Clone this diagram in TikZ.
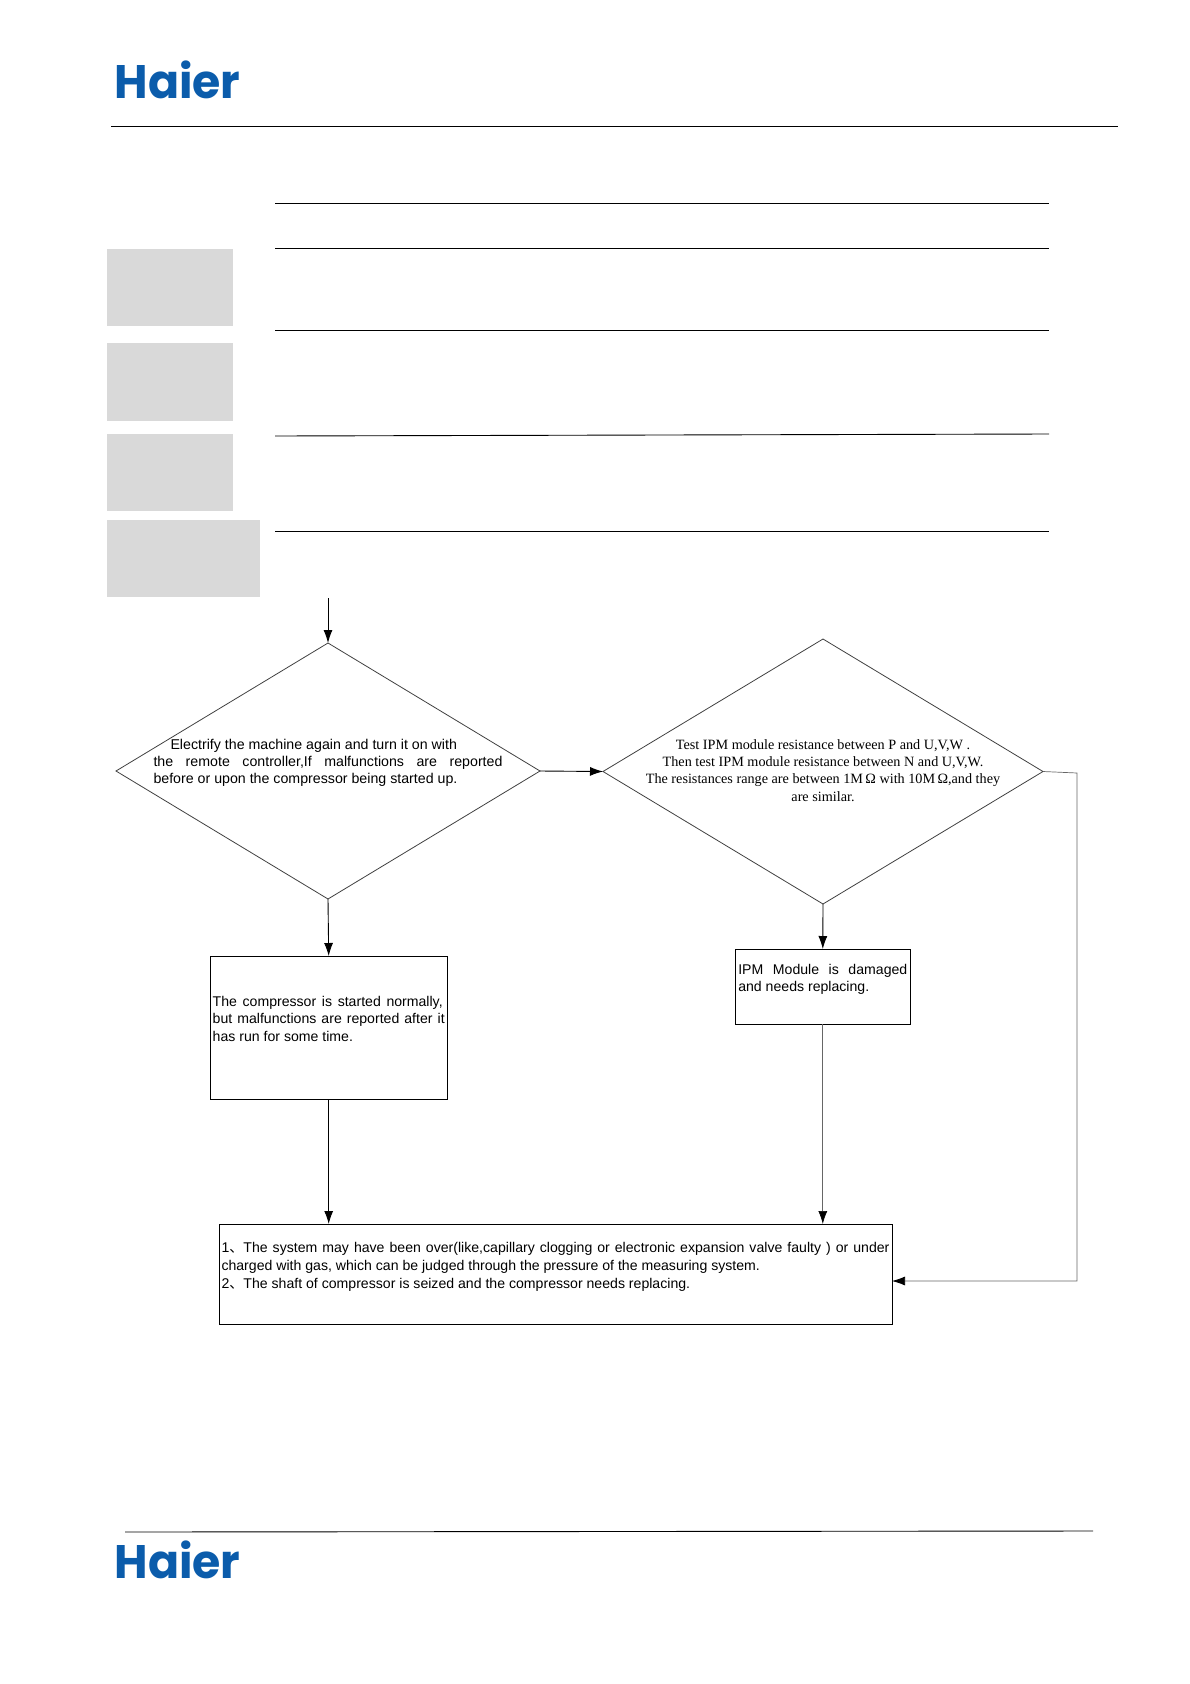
\documentclass[tikz,border=0pt]{standalone}
\usepackage{fontspec}
\setmainfont{Liberation Sans}
\newfontfamily\serifin{Liberation Serif}
\newfontfamily\cjk{Noto Sans CJK SC}
\newfontfamily\logofont{Poppins}[BoldFont=* Bold]
\usetikzlibrary{shapes.geometric,arrows.meta}
\definecolor{haierblue}{HTML}{0B5CAB}
\definecolor{panelgray}{HTML}{D9D9D9}
\newcommand{\fillline}[2]{\makebox[#1][s]{#2}}
\newcommand{\dun}{{\cjk 、}}
\newcommand{\logotext}{\scalebox{.975}[1]{Haier}}
\tikzset{
  rule/.style={line width=.9pt,black},
  panel/.style={fill=panelgray,draw=none},
  decision/.style={diamond,draw=black!75,line width=.8pt,inner sep=0pt,outer sep=0pt,aspect=1.66},
  stepbox/.style={rectangle,draw=black,line width=.9pt,inner sep=0pt,outer sep=0pt},
  flow/.style={line width=.9pt,black,-{Latex[length=13pt,width=9pt]}},
  thinflow/.style={line width=.7pt,black!60,-{Latex[length=13pt,width=9pt,black]}},
  logo/.style={inner sep=0pt,outer sep=0pt,text=haierblue,font=\logofont\bfseries\fontsize{47}{47}\selectfont},
}
\begin{document}
\begin{tikzpicture}[x=1pt,y=-1pt]
\useasboundingbox (0,0) rectangle (1190,1684);
% header / footer
\node[logo] (logotop) at (177.5,80) {\logotext};
\node[logo] (logobot) at (177.5,1560) {\logotext};
\draw[rule] (111,126.5) -- (1118,126.5);
\draw[rule] (125,1532) -- (1093,1531);
% table rules
\draw[rule] (275,203) -- (1049,203);
\draw[rule] (275,248.5) -- (1049,248.5);
\draw[rule] (275,330) -- (1049,330);
\draw[rule] (275,436) -- (1049,434);
\draw[rule] (275,531) -- (1049,531);
% grey panels
\fill[panel] (107,249) rectangle (233,326);
\fill[panel] (107,343) rectangle (233,421);
\fill[panel] (107,434) rectangle (233,511);
\fill[panel] (107,520) rectangle (260,597);
% flowchart
\coordinate (start) at (328,598);
\node[decision,minimum width=424pt,minimum height=256pt] (d1) at (328,771) {%
  \makebox[0pt]{\smash{\raisebox{5.5pt}{\parbox{349pt}{\fontsize{14.2}{17.3}\selectfont\hspace*{17pt}Electrify the machine again and turn it on with\\
  \fillline{349pt}{the remote controller,If malfunctions are reported}\\
  before or upon the compressor being started up.}}}}};
\node[decision,minimum width=440pt,minimum height=265pt] (d2) at (823,771.5) {%
  \makebox[0pt]{\smash{\raisebox{-1.5pt}{\parbox{380pt}{\centering\serifin\fontsize{14.2}{17.3}\selectfont Test IPM module resistance  between P and U,V,W .\\
  Then test IPM module resistance between N and U,V,W.\\
  The resistances range  are between 1M\,Ω  with 10M\,Ω,and they\\
  are similar.}}}}};
\node[stepbox,minimum width=237pt,minimum height=143pt] (b1) at (328.7,1027.5) {%
  \parbox{232pt}{\fontsize{14.1}{17.3}\selectfont
  \fillline{230pt}{The compressor is started normally,}\\
  \fillline{232pt}{but malfunctions are reported after it}\\
  has run for some time.\\~}};
\node[stepbox,minimum width=175pt,minimum height=75pt] (b2) at (822.8,986.5) {%
  \parbox{169pt}{\fontsize{14.1}{17.3}\selectfont
  \fillline{169pt}{IPM Module is damaged}\\
  and needs replacing.\\~}};
\node[stepbox,minimum width=673pt,minimum height=100pt] (b3) at (555.5,1274) {%
  \parbox{668pt}{\fontsize{14.1}{17.8}\selectfont
  \fillline{668pt}{1\dun The system may have been over(like,capillary clogging or electronic expansion valve faulty ) or under}\\
  charged with gas, which can be judged through the pressure of the measuring system.\\
  2\dun The shaft of compressor is seized and the compressor needs replacing.\\~}};
\coordinate (bend) at (1077,773);
\coordinate (entry) at (892,1281);
\draw[flow] (start) -- (d1.north);
\draw[flow] (d1.east) -- (d2.west);
\draw[flow] (d1.south) -- (b1.north);
\draw[flow] (d2.south) -- (b2.north);
\draw[flow] (b1.south) -- (b1.south |- b3.north);
\draw[thinflow] (b2.south) -- (b2.south |- b3.north);
\draw[thinflow] (d2.east) -- (bend) -- (bend |- entry) -- (entry);
\end{tikzpicture}
\end{document}
